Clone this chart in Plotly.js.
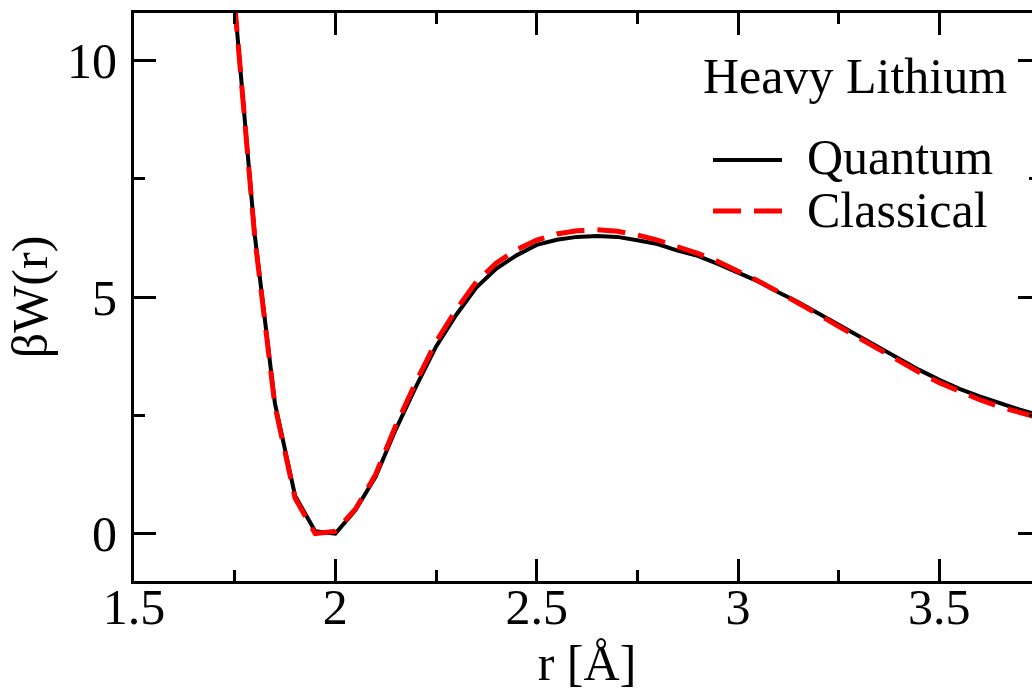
<!DOCTYPE html>
<html>
<head>
<meta charset="utf-8">
<script src="https://cdn.plot.ly/plotly-3.0.1.min.js"></script>
<style>
  html, body { margin: 0; padding: 0; overflow: hidden; background: #fff; }
  #chart { width: 1060px; height: 695px; }
</style>
</head>
<body>
<div id="chart"></div>
<script>
// Interatomic distance r in angstrom
const r = [1.75, 1.80, 1.85, 1.90, 1.95, 2.00, 2.05, 2.10, 2.15, 2.20, 2.25, 2.30, 2.35, 2.40,
           2.45, 2.50, 2.55, 2.60, 2.65, 2.70, 2.75, 2.80, 2.85, 2.90, 2.95, 3.00, 3.05, 3.10,
           3.15, 3.20, 3.25, 3.30, 3.35, 3.40, 3.45, 3.50, 3.55, 3.60, 3.65, 3.70, 3.75];

// Potential of mean force, beta*W(r), quantum simulation
const wQuantum = [11.2, 6.30, 2.75, 0.80, 0.05, 0.00, 0.50, 1.20, 2.20, 3.10, 3.95, 4.62, 5.20, 5.60,
                  5.88, 6.10, 6.21, 6.27, 6.29, 6.27, 6.20, 6.12, 5.98, 5.87, 5.70, 5.52, 5.33, 5.10,
                  4.89, 4.65, 4.41, 4.17, 3.93, 3.69, 3.46, 3.25, 3.06, 2.90, 2.75, 2.62, 2.50];

// Potential of mean force, beta*W(r), classical simulation
const wClassical = [11.2, 6.25, 2.70, 0.75, 0.00, 0.05, 0.52, 1.25, 2.28, 3.20, 4.05, 4.73, 5.32, 5.72,
                    6.00, 6.20, 6.33, 6.40, 6.42, 6.39, 6.31, 6.20, 6.06, 5.92, 5.75, 5.55, 5.34, 5.11,
                    4.88, 4.63, 4.38, 4.13, 3.88, 3.64, 3.41, 3.19, 3.00, 2.83, 2.68, 2.55, 2.44];

const seriesNames = ["Quantum", "Classical"];
const legendTitle = "Heavy Lithium";
const xTitle = "r [Å]";
const yTitle = "βW(r)";

const FONT = "'Liberation Serif', 'DejaVu Serif', serif";
const FS = 50;

const traces = [
  { x: r, y: wQuantum, name: seriesNames[0], type: "scatter", mode: "lines",
    line: { color: "#000000", width: 4 } },
  { x: r, y: wClassical, name: seriesNames[1], type: "scatter", mode: "lines",
    line: { color: "#ff0000", width: 5, dash: "28px,13px" } }
];

// plot-area geometry helpers for the hand-drawn key
const L = 134, T = 13, PW = 906, PH = 568;
const px = v => (v - L) / PW;
const py = v => (T + PH - v) / PH;

const axisCommon = {
  showline: true, linecolor: "#000", linewidth: 3, mirror: "allticks",
  ticks: "inside", ticklen: 22, tickwidth: 3, tickcolor: "#000",
  showgrid: false, zeroline: false,
  tickfont: { family: FONT, size: FS, color: "#000" }
};

const layout = {
  width: 1060, height: 695,
  margin: { l: L, r: 1060 - L - PW, t: T, b: 695 - T - PH },
  paper_bgcolor: "#fff", plot_bgcolor: "#fff",
  font: { family: FONT, size: FS, color: "#000" },
  showlegend: false,
  xaxis: Object.assign({}, axisCommon, {
    range: [1.5, 3.75], dtick: 0.5, tick0: 1.5,
    minor: { ticks: "inside", ticklen: 11, tickwidth: 3, tickcolor: "#000", dtick: 0.25, showgrid: false },
    ticklabelstandoff: -20,
    title: { text: xTitle, font: { family: FONT, size: FS, color: "#000" }, standoff: 2 }
  }),
  yaxis: Object.assign({}, axisCommon, {
    range: [-1, 11], dtick: 5, tick0: 0,
    minor: { ticks: "inside", ticklen: 11, tickwidth: 3, tickcolor: "#000", dtick: 2.5, showgrid: false },
    ticklabelstandoff: 4,
    title: { text: yTitle, font: { family: FONT, size: FS, color: "#000" }, standoff: 4 }
  }),
  shapes: [
    { type: "line", xref: "paper", yref: "paper", x0: px(713), x1: px(782), y0: py(160), y1: py(160),
      line: { color: "#000", width: 4 } },
    { type: "line", xref: "paper", yref: "paper", x0: px(713), x1: px(782), y0: py(211), y1: py(211),
      line: { color: "#ff0000", width: 5, dash: "28px,13px" } }
  ],
  annotations: [
    { xref: "paper", yref: "paper", x: px(701), y: py(76), xanchor: "left", yanchor: "middle",
      text: legendTitle, showarrow: false, font: { family: FONT, size: FS, color: "#000" } },
    { xref: "paper", yref: "paper", x: px(805), y: py(157), xanchor: "left", yanchor: "middle",
      text: seriesNames[0], showarrow: false, font: { family: FONT, size: FS, color: "#000" } },
    { xref: "paper", yref: "paper", x: px(805), y: py(210), xanchor: "left", yanchor: "middle",
      text: seriesNames[1], showarrow: false, font: { family: FONT, size: FS, color: "#000" } }
  ]
};

Plotly.newPlot("chart", traces, layout, { displayModeBar: false, staticPlot: true });
</script>
</body>
</html>
